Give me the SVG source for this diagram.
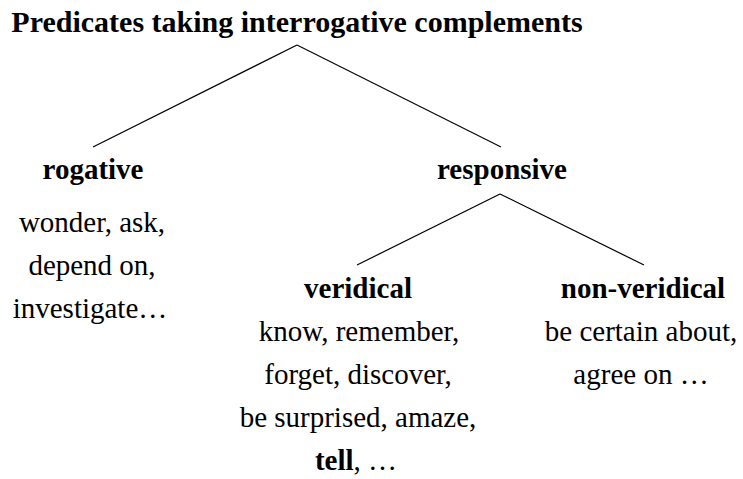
<svg xmlns="http://www.w3.org/2000/svg" width="743" height="479" viewBox="0 0 743 479">
<style>
text { font-family: "Liberation Serif", "Times New Roman", serif; font-size: 29px; fill: #000; text-anchor: middle; }
.b { font-weight: bold; }
.title { font-size: 30px; }
.edge { stroke: #000; stroke-width: 1.2; fill: none; }
</style>
<rect width="743" height="479" fill="#fff"/>
<g id="connectors">
  <line class="edge" x1="297" y1="45" x2="93" y2="147"/>
  <line class="edge" x1="297" y1="45" x2="501" y2="147"/>
  <line class="edge" x1="500" y1="194" x2="357" y2="265"/>
  <line class="edge" x1="500" y1="194" x2="644" y2="265"/>
</g>
<g id="root">
  <text class="b title" x="297" y="32">Predicates taking interrogative complements</text>
</g>
<g id="rogative">
  <text class="b" x="93" y="179">rogative</text>
  <text x="92" y="232">wonder, ask,</text>
  <text x="92" y="275">depend on,</text>
  <text x="90" y="318">investigate…</text>
</g>
<g id="responsive">
  <text class="b" x="502" y="179">responsive</text>
</g>
<g id="veridical">
  <text class="b" x="358" y="298">veridical</text>
  <text x="359" y="341">know, remember,</text>
  <text x="358" y="384">forget, discover,</text>
  <text x="358" y="427">be surprised, amaze,</text>
  <text x="356" y="470"><tspan class="b">tell</tspan>, …</text>
</g>
<g id="non-veridical">
  <text class="b" x="643" y="298">non-veridical</text>
  <text x="641" y="341">be certain about,</text>
  <text x="641" y="384">agree on …</text>
</g>
</svg>
